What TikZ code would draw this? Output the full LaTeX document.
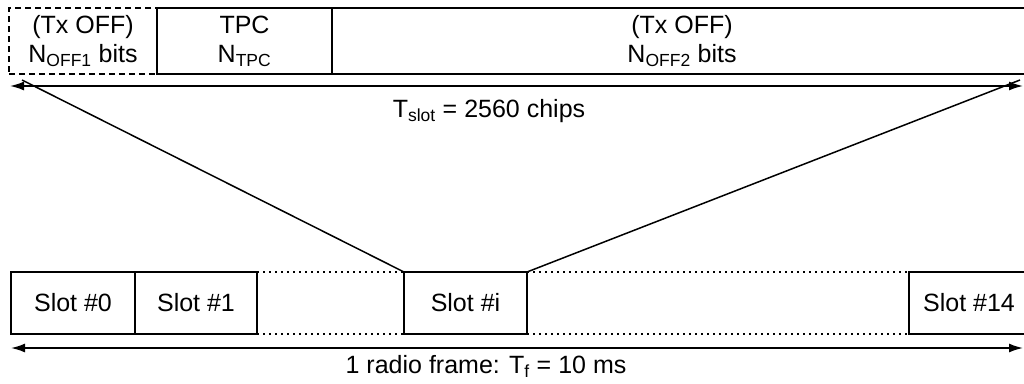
\documentclass[tikz,border=0pt]{standalone}
\usepackage{fontspec}
\setmainfont{Liberation Sans}
\usetikzlibrary{positioning,arrows.meta}

\tikzset{
  field/.style={draw, rectangle, line width=1.2pt, minimum height=66pt, inner sep=0pt, outer sep=0pt, align=center, anchor=north west},
  slotbox/.style={draw, rectangle, line width=1.2pt, minimum height=62pt, inner sep=0pt, outer sep=0pt, anchor=north west},
  span/.style={{Latex[length=14pt,width=9pt]}-{Latex[length=14pt,width=9pt]}, line width=1.6pt},
  gap/.style={line width=1.2pt, dash pattern=on 1.5pt off 4.5pt}
}

\begin{document}
\begin{tikzpicture}[x=1pt, y=-1pt, font=\fontsize{25}{29}\selectfont]
				\useasboundingbox (0,0) rectangle (1024,383);
				
				% slot fields
				\node[field, dashed, dash pattern=on 6pt off 4pt, minimum width=148pt] (off1) at (9,8) {(Tx OFF)\\N\textsubscript{OFF1} bits};
				\node[field, minimum width=175pt, right=0pt of off1] (tpc) {TPC\\N\textsubscript{TPC}};
				\node[field, minimum width=700pt, right=0pt of tpc] (off2) {(Tx OFF)\\N\textsubscript{OFF2} bits};
				
				\coordinate (tl) at (10,86);
				\coordinate (tr) at (1023,86);
				\draw[span] (tl) -- (tr);
				\node (tslot) at (489,111) {T\textsubscript{slot} = 2560 chips};
				
				% radio frame
				\node[slotbox, minimum width=124pt] (slot0) at (11,272) {Slot \#0};
				\node[slotbox, minimum width=122pt, right=0pt of slot0] (slot1) {Slot \#1};
				\node[slotbox, minimum width=123pt] (sloti) at (404,272) {Slot \#i};
				\node[slotbox, minimum width=120pt] (slot14) at (909,272) {Slot \#14};
				
				\draw[gap] (slot1.north east) -- (sloti.north west);
				\draw[gap] (slot1.south east) -- (sloti.south west);
				\draw[gap] (sloti.north east) -- (slot14.north west);
				\draw[gap] (sloti.south east) -- (slot14.south west);
				
				\coordinate (dl) at (22,80);
				\coordinate (dr) at (1020,80);
				\draw[line width=1.5pt] (dl) -- (sloti.north west);
				\draw[line width=1.5pt] (sloti.north east) -- (dr);
				
				\coordinate (bl) at (11,348);
				\coordinate (br) at (1023,348);
				\draw[span] (bl) -- (br);
				\node (frame) at (486,366) {1 radio frame: T\textsubscript{f} = 10 ms};
			\end{tikzpicture}
\end{document}
